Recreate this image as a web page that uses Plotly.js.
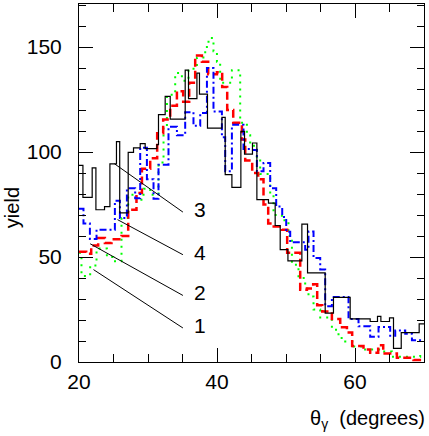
<!DOCTYPE html>
<html>
<head>
<meta charset="utf-8">
<script src="https://cdn.plot.ly/plotly-3.0.1.min.js"></script>
<style>html,body{margin:0;padding:0;background:#fff;}#chart{width:429px;height:436px;}</style>
</head>
<body>
<div id="chart"></div>
<script>
// Histogram bin edges (degrees) and yields for each sample
const edgesBlack = [20, 20.57, 21.91, 22.45, 23.70, 24.48, 25.43, 25.90, 27.13, 27.90, 28.87, 29.59, 31.29, 31.52, 32.49, 33.22, 35.39, 35.87, 37.09, 37.46, 38.62, 40.71, 41.19, 42.16, 43.46, 43.99, 45.14, 45.78, 47.46, 48.43, 49.16, 50.28, 52.30, 53.12, 55.68, 56.88, 59.30, 62.20, 63.26, 63.75, 65.00, 65.58, 66.70, 69.30, 70];
const yieldBlack = [93.6, 78.4, 92.5, 72.5, 74, 94.4, 105, 71, 99.8, 102, 104, 101.6, 103.5, 117.8, 126.5, 115.7, 139, 125.4, 137.6, 127.6, 111.4, 116.5, 89.2, 83.2, 109.8, 99, 104.3, 77.3, 75.7, 65, 53.5, 48.2, 65.7, 42.4, 23.3, 30.8, 20.5, 19.3, 21.7, 19.3, 21, 6.5, 14, 18.2];

const edgesRed = [20, 21.04, 21.77, 22.78, 23.75, 24.71, 26.16, 27.13, 28.33, 29.12, 30.32, 31.33, 32.20, 33.22, 34.19, 35.10, 35.97, 36.84, 37.81, 38.72, 39.99, 40.75, 41.48, 42.35, 43.61, 44.09, 45.10, 45.97, 46.74, 47.42, 48.00, 49.41, 50.17, 52.06, 53.03, 53.94, 54.52, 55.25, 56.65, 57.86, 58.83, 59.59, 61.23, 62.20, 63.36, 64.09, 66.07, 68.48, 70];
const yieldRed = [52.5, 51.5, 55.5, 59, 56.7, 58.5, 60, 72.5, 80.5, 92, 97, 109, 115.5, 122, 129, 124, 133, 146, 143, 137, 138, 131, 120, 114, 106, 96, 90, 87, 75, 66, 64.5, 63, 52, 34.4, 35, 37, 27, 24, 20.5, 16.5, 14, 7.6, 6, 4.4, 8, 4, 2, 1];

const edgesBlue = [20, 20.65, 21.58, 22.54, 25.20, 25.93, 26.94, 28.14, 28.87, 29.84, 30.80, 31.52, 32.97, 34.19, 35.39, 36.59, 37.57, 38.54, 39.49, 40.71, 41.19, 42.16, 43.84, 44.81, 45.78, 46.74, 47.71, 48.58, 49.45, 50.03, 50.61, 52.78, 53.26, 53.99, 54.96, 55.68, 56.65, 59.06, 60.51, 62.20, 63.41, 65.10, 65.83, 67.28, 68.25, 70];
const yieldBlue = [73, 66, 58.6, 63, 76.8, 68.6, 82.8, 78, 102, 87, 77.7, 94, 112, 108, 119, 112.5, 118.6, 140, 119.3, 107, 90.8, 113, 101.4, 101, 90.8, 94.8, 82.8, 74, 69, 62, 57, 53.5, 62.2, 49.5, 44, 26.5, 31, 20.5, 17, 12, 16.7, 12.5, 15, 13.5, 10.3];

const edgesGreen = [20, 20.36, 21.62, 22.54, 24.04, 24.96, 26.16, 27.13, 28.33, 29.35, 30.32, 31.52, 32.25, 32.74, 33.94, 34.91, 35.87, 37.09, 38.29, 38.77, 39.49, 39.99, 40.46, 42.16, 43.36, 44.33, 44.81, 45.78, 46.26, 47.71, 48.19, 49.41, 50.36, 50.86, 51.81, 52.78, 53.26, 53.99, 54.96, 56.65, 57.61, 58.58, 59.78, 61.23, 63.65, 65.35, 69.45, 70];
const yieldGreen = [52, 41, 46, 54, 50, 48, 68.6, 79.7, 77.3, 82.5, 79.7, 95, 112, 127.3, 137.6, 134, 139.7, 145, 150, 154.3, 148, 143, 133, 139, 114, 108, 103, 97, 89.5, 80, 70, 67.5, 60, 46.3, 40, 35, 31.2, 25, 21.2, 15.4, 11.4, 9.8, 7.4, 5.9, 5, 2.5, 3.5];

// Curve labels with leader lines (data coordinates)
const labelText = ['3', '4', '2', '1'];
const leaderStartX = [25.14, 25.58, 21.62, 22.10];
const leaderStartY = [94.4, 67.8, 56.3, 44.0];
const leaderEndX = [35.06, 35.06, 35.06, 35.06];
const leaderEndY = [71.4, 51.1, 31.7, 16.2];
const labelX = [36.4, 36.4, 36.4, 36.4];
const labelY = [72.5, 52.0, 33.2, 17.4];

const xTickVals = [20, 40, 60];
const yTickVals = [0, 50, 100, 150];

function stepTrace(edges, vals, color, width, dash) {
  return {
    x: edges.slice(),
    y: vals.concat([vals[vals.length - 1]]),
    type: 'scatter', mode: 'lines',
    line: {shape: 'hv', color: color, width: width, dash: dash},
    hoverinfo: 'skip', showlegend: false
  };
}

const data = [
  stepTrace(edgesGreen, yieldGreen, '#00ff00', 2, '2px,5px'),
  stepTrace(edgesRed, yieldRed, '#ff0000', 2.5, '8px,4px'),
  stepTrace(edgesBlue, yieldBlue, '#0000ff', 2, '7px,3px,2px,3px'),
  stepTrace(edgesBlack, yieldBlack, '#000000', 1.2, 'solid')
];

const font = 'Liberation Sans, Arial, Helvetica, sans-serif';

const shapes = labelText.map((t, i) => ({
  type: 'line', xref: 'x', yref: 'y',
  x0: leaderStartX[i], y0: leaderStartY[i], x1: leaderEndX[i], y1: leaderEndY[i],
  line: {color: '#000', width: 1}
}));

const annotations = labelText.map((t, i) => ({
  xref: 'x', yref: 'y', x: labelX[i], y: labelY[i], text: t,
  showarrow: false, xanchor: 'left', yanchor: 'middle',
  font: {family: font, size: 21, color: '#000'}
}));
annotations.push({
  xref: 'paper', yref: 'paper', x: -0.194, y: 0.43, text: 'yield', textangle: -90,
  showarrow: false, xanchor: 'center', yanchor: 'middle',
  font: {family: font, size: 20, color: '#000'}
});
annotations.push({
  xref: 'paper', yref: 'paper', x: 1.009, y: -0.161, text: 'θ<sub>γ</sub>  (degrees)',
  showarrow: false, xanchor: 'right', yanchor: 'middle',
  font: {family: font, size: 20, color: '#000'}
});

const layout = {
  width: 429, height: 436,
  margin: {l: 79, r: 5, t: 4, b: 74, pad: 0},
  paper_bgcolor: '#fff', plot_bgcolor: '#fff',
  showlegend: false,
  font: {family: font, size: 21, color: '#000'},
  xaxis: {
    range: [20, 70], tickmode: 'array', tickvals: xTickVals, ticktext: xTickVals.map(String),
    ticks: 'inside', ticklen: 14, tickwidth: 1, tickcolor: '#000',
    minor: {dtick: 5, tick0: 20, ticks: 'inside', ticklen: 8, tickwidth: 1, tickcolor: '#000'},
    showline: true, linecolor: '#000', linewidth: 1, mirror: 'allticks',
    showgrid: false, zeroline: false, ticklabelstandoff: 1,
    tickfont: {family: font, size: 21, color: '#000'}
  },
  yaxis: {
    range: [0, 170.5], tickmode: 'array', tickvals: yTickVals, ticktext: yTickVals.map(String),
    ticks: 'inside', ticklen: 14, tickwidth: 1, tickcolor: '#000',
    minor: {dtick: 10, tick0: 0, ticks: 'inside', ticklen: 7, tickwidth: 1, tickcolor: '#000'},
    showline: true, linecolor: '#000', linewidth: 1, mirror: 'allticks',
    showgrid: false, zeroline: false, ticklabelstandoff: 12,
    tickfont: {family: font, size: 21, color: '#000'}
  },
  shapes: shapes,
  annotations: annotations
};

Plotly.newPlot('chart', data, layout, {staticPlot: true, displayModeBar: false});
</script>
</body>
</html>
